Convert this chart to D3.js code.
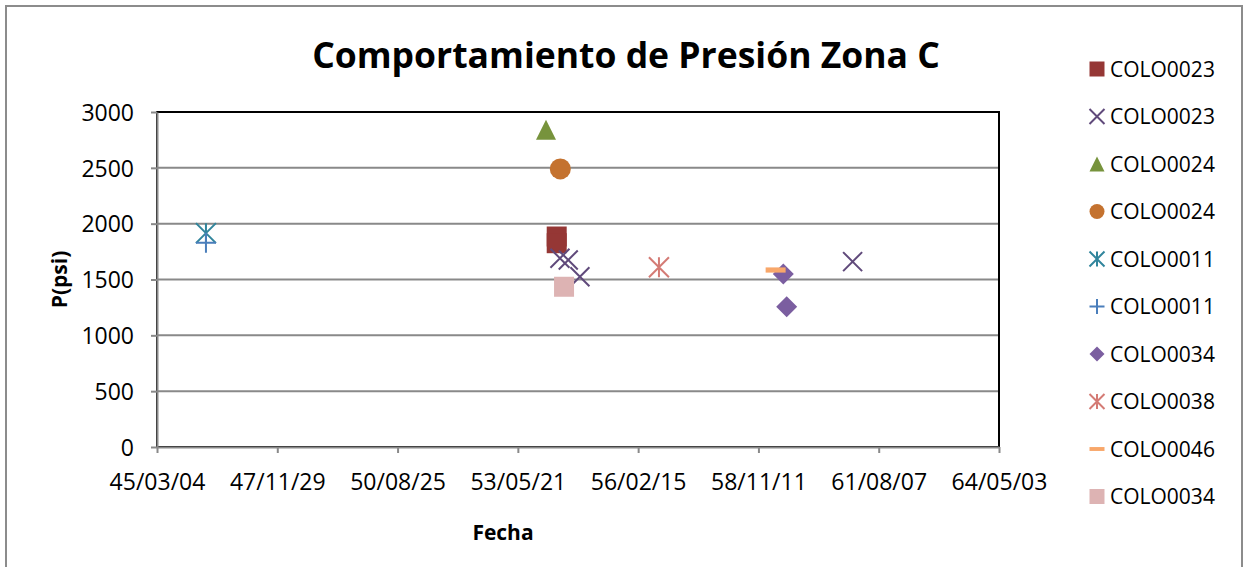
<!DOCTYPE html>
<html>
<head>
<meta charset="utf-8">
<script src="https://cdn.jsdelivr.net/npm/d3@7"></script>
<style>
    body { margin: 0; background: #fff; }
    text { font-family: 'Open Sans', sans-serif; fill: #000; }
    .grid-line { stroke: #898989; stroke-width: 2; }
    .axis path.domain, .axis line { stroke: #898989; stroke-width: 2; }
</style>
</head>
<body>
<div id="chart"></div>
<script>
// series as they appear in the legend
const seriesNames = ['COLO0023', 'COLO0023', 'COLO0024', 'COLO0024', 'COLO0011',
    'COLO0011', 'COLO0034', 'COLO0038', 'COLO0046', 'COLO0034'];

// dates (yyyy-mm-dd) per series
const seriesDates = [
    ['1954-04-09', '1954-04-09'],
    ['1954-05-06', '1954-07-14', '1954-10-19', '1961-01-02'],
    ['1954-01-10'],
    ['1954-05-09'],
    ['1946-04-15'],
    ['1946-04-15'],
    ['1959-06-06', '1959-07-04'],
    ['1956-08-06'],
    ['1959-04-03'],
    ['1954-06-09']
];

// pressure in psi per series
const seriesValues = [
    [1885, 1825],
    [1690, 1675, 1525, 1660],
    [2840],
    [2490],
    [1915],
    [1830],
    [1550, 1255],
    [1610],
    [1585],
    [1435]
];

const xTickDates = ['1945-03-04', '1947-11-29', '1950-08-25', '1953-05-21',
    '1956-02-15', '1958-11-11', '1961-08-07', '1964-05-03'];
const yTicks = [0, 500, 1000, 1500, 2000, 2500, 3000];

// marker look per series
const markerTypes = ['square', 'x', 'triangle', 'circle', 'star', 'plus', 'diamond', 'star', 'dash', 'square'];
const markerColors = ['#953735', '#604a7b', '#77933c', '#c4722f', '#31859c',
    '#4a7ebb', '#7b5ea0', '#d47b75', '#f8a76a', '#ddb3b3'];

const width = 1246;
const height = 567;
const plot = { left: 157, right: 999, top: 112, bottom: 447 };

const parse = d3.utcParse('%Y-%m-%d');

const svg = d3.select('#chart')
    .append('svg')
    .attr('width', width)
    .attr('height', height);

// outer chart border
svg.append('rect')
    .attr('x', 6).attr('y', 6)
    .attr('width', 1236).attr('height', 600)
    .attr('fill', '#fff')
    .attr('stroke', '#8c8c8c')
    .attr('stroke-width', 2);

const xScale = d3.scaleUtc()
    .domain([parse(xTickDates[0]), parse(xTickDates[xTickDates.length - 1])])
    .range([plot.left, plot.right]);

const yScale = d3.scaleLinear()
    .domain([0, 3000])
    .range([plot.bottom, plot.top]);

// marker shapes, s = full size in px
function markerPath(type, s) {
    const h = s / 2;
    const p = d3.path();
    if (type === 'square') {
        p.rect(-h, -h, s, s);
    } else if (type === 'triangle') {
        p.moveTo(0, -h); p.lineTo(h, h); p.lineTo(-h, h); p.closePath();
    } else if (type === 'circle') {
        p.arc(0, 0, h, 0, 2 * Math.PI);
    } else if (type === 'diamond') {
        p.moveTo(0, -h); p.lineTo(h, 0); p.lineTo(0, h); p.lineTo(-h, 0); p.closePath();
    } else if (type === 'dash') {
        p.rect(-h, -s * 0.13, s, s * 0.26);
    } else if (type === 'x') {
        p.moveTo(-h, -h); p.lineTo(h, h); p.moveTo(h, -h); p.lineTo(-h, h);
    } else if (type === 'plus') {
        p.moveTo(-h, 0); p.lineTo(h, 0); p.moveTo(0, -h); p.lineTo(0, h);
    } else if (type === 'star') {
        p.moveTo(-h, -h); p.lineTo(h, h); p.moveTo(h, -h); p.lineTo(-h, h);
        p.moveTo(0, -h); p.lineTo(0, h);
    }
    return p.toString();
}
const isLine = t => t === 'x' || t === 'plus' || t === 'star';

// grid lines
svg.append('g')
    .selectAll('line')
    .data(yTicks.filter(d => d > 0))
    .enter()
    .append('line')
    .classed('grid-line', true)
    .attr('x1', plot.left)
    .attr('x2', plot.right)
    .attr('y1', d => yScale(d))
    .attr('y2', d => yScale(d));

// plot area border (top and right show black)
svg.append('rect')
    .attr('x', plot.left).attr('y', plot.top)
    .attr('width', plot.right - plot.left)
    .attr('height', plot.bottom - plot.top)
    .attr('fill', 'none')
    .attr('stroke', '#000')
    .attr('stroke-width', 2);

//y-axis
const yAxis = d3.axisLeft(yScale)
    .tickValues(yTicks)
    .tickFormat(d3.format('d'))
    .tickSize(6)
    .tickSizeOuter(0)
    .tickPadding(17);

svg.append('g')
    .classed('axis', true)
    .attr('transform', 'translate(' + plot.left + ',0)')
    .call(yAxis)
    .selectAll('text')
    .style('font-size', '23px')
    .attr('dy', '0.36em');

//x-axis
const xAxis = d3.axisBottom(xScale)
    .tickValues(xTickDates.map(parse))
    .tickFormat(d3.utcFormat('%y/%m/%d'))
    .tickSize(6)
    .tickSizeOuter(0)
    .tickPadding(21);

svg.append('g')
    .classed('axis', true)
    .attr('transform', 'translate(0,' + plot.bottom + ')')
    .call(xAxis)
    .selectAll('text')
    .style('font-size', '23px');

svg.selectAll('.axis text').style('fill', '#000');

// points, one group per series so later series sit on top
seriesNames.forEach((name, i) => {
    const pts = seriesDates[i].map((d, j) => ({ date: parse(d), value: seriesValues[i][j] }));
    const t = markerTypes[i];
    svg.append('g')
        .selectAll('path')
        .data(pts)
        .enter()
        .append('path')
        .attr('d', markerPath(t, t === 'x' ? 19 : t === 'diamond' ? 21 : t === 'circle' ? 21 : 20))
        .attr('transform', d => 'translate(' + xScale(d.date) + ',' + yScale(d.value) + ')')
        .attr('fill', isLine(t) ? 'none' : markerColors[i])
        .attr('stroke', isLine(t) ? markerColors[i] : 'none')
        .attr('stroke-width', 2);
});

// legend
const legend = svg.append('g')
    .selectAll('g')
    .data(seriesNames)
    .enter()
    .append('g')
    .attr('transform', (d, i) => 'translate(1097,' + (69 + i * 47.5) + ')');

legend.append('path')
    .attr('d', (d, i) => markerPath(markerTypes[i], 15))
    .attr('fill', (d, i) => isLine(markerTypes[i]) ? 'none' : markerColors[i])
    .attr('stroke', (d, i) => isLine(markerTypes[i]) ? markerColors[i] : 'none')
    .attr('stroke-width', 2);

legend.append('text')
    .attr('x', 13)
    .attr('dy', '0.36em')
    .style('font-size', '21px')
    .text(d => d);

// titles
svg.append('text')
    .attr('x', 626)
    .attr('y', 68)
    .attr('text-anchor', 'middle')
    .style('font-size', '35.5px')
    .style('font-weight', 'bold')
    .text('Comportamiento de Presión Zona C');

svg.append('text')
    .attr('x', 503)
    .attr('y', 540)
    .attr('text-anchor', 'middle')
    .style('font-size', '21px')
    .style('font-weight', 'bold')
    .text('Fecha');

svg.append('text')
    .attr('transform', 'translate(67,' + ((plot.top + plot.bottom) / 2) + ') rotate(-90)')
    .attr('text-anchor', 'middle')
    .style('font-size', '21px')
    .style('font-weight', 'bold')
    .text('P(psi)');
</script>
</body>
</html>
